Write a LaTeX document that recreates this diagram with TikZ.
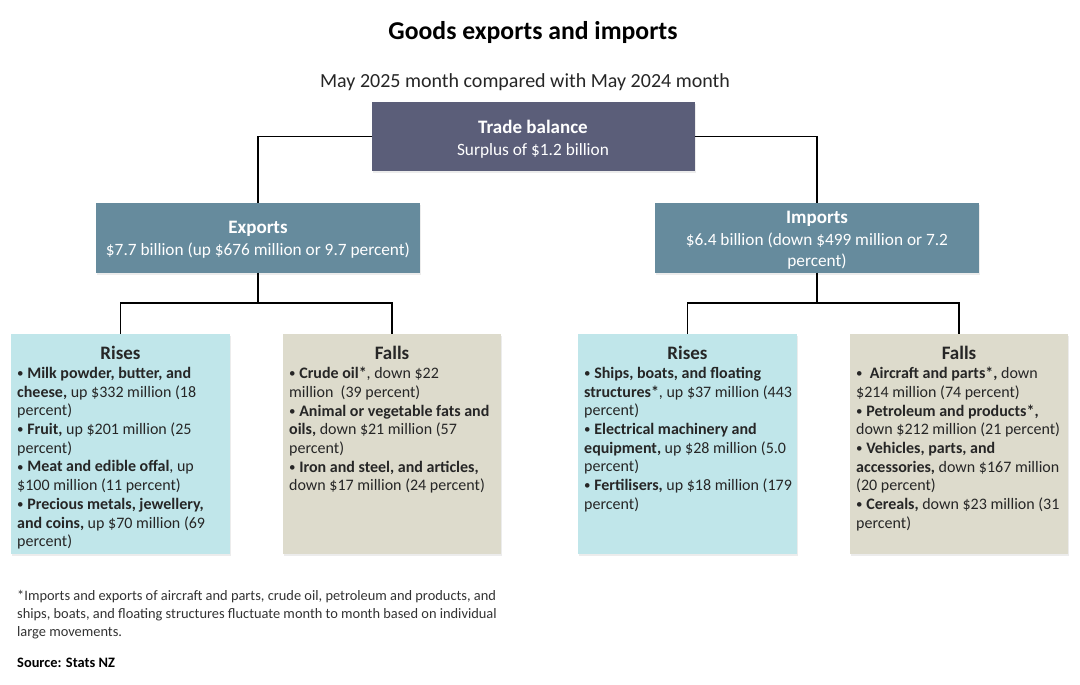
\documentclass[tikz,border=0pt]{standalone}
\usepackage{fontspec}
\setmainfont{Carlito}
\usetikzlibrary{shadows}
\definecolor{tradec}{HTML}{5B5E79}
\definecolor{flowc}{HTML}{668B9D}
\definecolor{risec}{HTML}{C0E6EA}
\definecolor{fallc}{HTML}{DDDBCC}
\definecolor{bodyc}{HTML}{262626}
\definecolor{notec}{HTML}{333333}
\newcommand{\bul}{\raisebox{0.8pt}{\fontsize{13}{13}\selectfont •}}
\tikzset{
  box/.style={inner sep=0pt, outer sep=0pt, draw=none,
    drop shadow={shadow xshift=1pt, shadow yshift=-2pt, opacity=0.12, fill=black!60}},
  conn/.style={draw=black, line width=1.5pt},
  headtext/.style={text=white, align=center, font=\fontsize{17.3}{21}\selectfont, yshift=-2.5pt},
  grouphead/.style={text=bodyc, font=\fontsize{19}{21}\selectfont\bfseries},
  bodytext/.style={text=bodyc, align=left, inner sep=0pt, anchor=north west,
    font=\fontsize{16}{18.7}\selectfont},
  notetext/.style={text=notec, align=left, inner sep=0pt, anchor=north west,
    font=\fontsize{14.4}{18}\selectfont},
}
\begin{document}
\begin{tikzpicture}[x=1pt,y=-1pt]
\useasboundingbox[fill=white] (0,0) rectangle (1080,685);

% titles
\node[font=\fontsize{25.7}{28}\selectfont\bfseries] (title) at (533,32.5) {Goods exports and imports};
\node[font=\fontsize{20}{22}\selectfont, text=bodyc] (subtitle) at (525,82) {May 2025 month compared with May 2024 month};

% top level boxes
\node[box, fill=tradec, minimum width=323pt, minimum height=69pt] (trade) at (533,136.5) {};
\node[headtext] (tradet) at (trade.center) {{\fontsize{19}{21}\selectfont\bfseries Trade balance}\\[1pt] Surplus of \$1.2 billion};

\node[box, fill=flowc, minimum width=324pt, minimum height=70pt] (exports) at (258,237.5) {};
\node[headtext] (exportst) at (exports.center) {{\fontsize{19}{21}\selectfont\bfseries Exports}\\[1pt] \$7.7 billion (up \$676 million or 9.7 percent)};

\node[box, fill=flowc, minimum width=324pt, minimum height=70pt] (imports) at (817,237.5) {};
\node[headtext] (importst) at (imports.center) {{\fontsize{19}{21}\selectfont\bfseries Imports}\\[1pt] \$6.4 billion (down \$499 million or 7.2\\ percent)};

% lower boxes
\node[box, fill=risec, minimum width=219pt, minimum height=220pt] (erises) at (120.5,444) {};
\node[box, fill=fallc, minimum width=218pt, minimum height=220pt] (efalls) at (392,444) {};
\node[box, fill=risec, minimum width=219pt, minimum height=220pt] (irises) at (687.5,444) {};
\node[box, fill=fallc, minimum width=218pt, minimum height=220pt] (ifalls) at (959,444) {};

\node[grouphead] (erisesh) at (120.5,352.5) {Rises};
\node[grouphead] (efallsh) at (392,352.5) {Falls};
\node[grouphead] (irisesh) at (687.5,352.5) {Rises};
\node[grouphead] (ifallsh) at (959,352.5) {Falls};

\node[bodytext] (erisest) at (17,367) {%
\bul\ \textbf{Milk powder, butter, and}\\
\textbf{cheese,} up \$332 million (18\\
percent)\\
\bul\ \textbf{Fruit,} up \$201 million (25\\
percent)\\
\bul\ \textbf{Meat and edible offal}, up\\
\$100 million (11 percent)\\
\bul\ \textbf{Precious metals, jewellery,}\\
\textbf{and coins,} up \$70 million (69\\
percent)};

\node[bodytext] (efallst) at (289,367) {%
\bul\ \textbf{Crude oil*}, down \$22\\
million\ \ (39 percent)\\
\bul\ \textbf{Animal or vegetable fats and}\\
\textbf{oils,} down \$21 million (57\\
percent)\\
\bul\ \textbf{Iron and steel, and articles,}\\
down \$17 million (24 percent)};

\node[bodytext] (irisest) at (584,367) {%
\bul\ \textbf{Ships, boats, and floating}\\
\textbf{structures*},\ up \$37 million (443\\
percent)\\
\bul\ \textbf{Electrical machinery and}\\
\textbf{equipment,} up \$28 million (5.0\\
percent)\\
\bul\ \textbf{Fertilisers,} up \$18 million (179\\
percent)};

\node[bodytext] (ifallst) at (856,367) {%
\bul\ \ \textbf{Aircraft and parts*,} down\\
\$214 million (74 percent)\\
\bul\ \textbf{Petroleum and products*,}\\
down \$212 million (21 percent)\\
\bul\ \textbf{Vehicles, parts, and}\\
\textbf{accessories,} down \$167 million\\
(20 percent)\\
\bul\ \textbf{Cereals,} down \$23 million (31\\
percent)};

% connectors
\coordinate (ej) at (258,303);
\coordinate (ij) at (817,303);
\draw[conn] (trade.west) -| (exports.north);
\draw[conn] (trade.east) -| (imports.north);
\draw[conn] (exports.south) -- (ej);
\draw[conn] (erises.north) |- (ej) -| (efalls.north);
\draw[conn] (imports.south) -- (ij);
\draw[conn] (irises.north) |- (ij) -| (ifalls.north);

% notes
\node[notetext] (note) at (17,590.5) {%
*Imports and exports of aircraft and parts, crude oil, petroleum and products, and\\
ships, boats, and floating structures fluctuate month to month based on individual\\
large movements.};
\node[notetext, font=\fontsize{14.4}{18}\selectfont\bfseries, text=black] (source) at (17,657.5) {Source: Stats NZ};
\end{tikzpicture}
\end{document}
